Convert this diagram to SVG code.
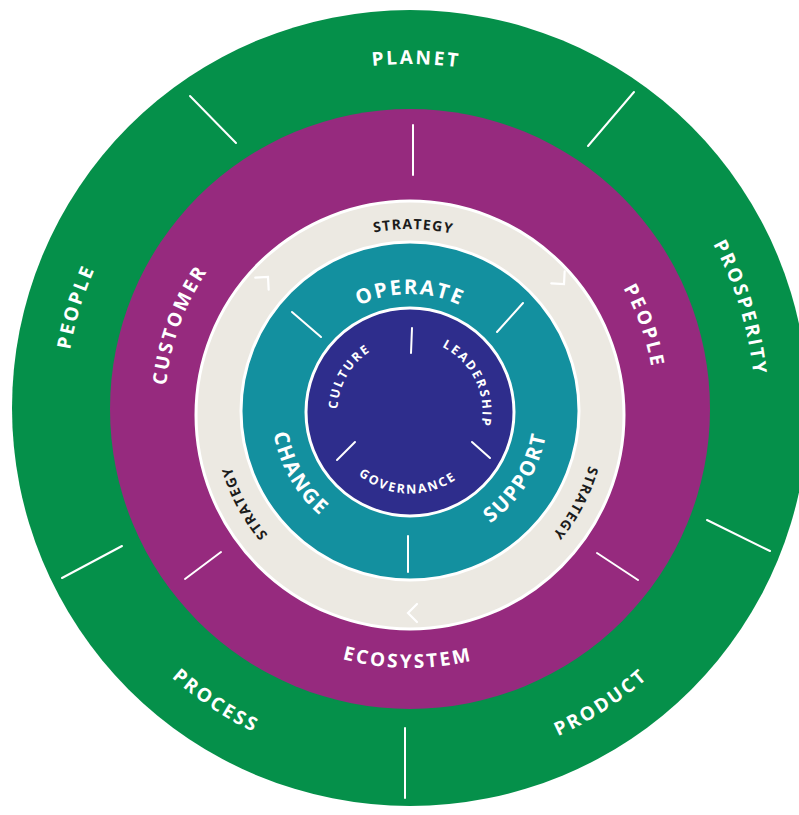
<svg xmlns="http://www.w3.org/2000/svg" width="799" height="815" viewBox="0 0 799 815">
<style>
text{font-family:"Open Sans","Liberation Sans",Arial,sans-serif;font-weight:700}
.w{fill:#ffffff}
.g{font-size:19px;letter-spacing:2.5px}
.p{font-size:19px;letter-spacing:2.5px}
.s{font-size:14px;letter-spacing:1.2px;fill:#1b1b1b}
.t{font-size:20.5px;letter-spacing:2px}
.n{font-size:12.5px;letter-spacing:2px}
.tick{stroke:#ffffff;stroke-width:2;stroke-linecap:round;fill:none}
.chev{stroke:#ffffff;stroke-width:2.2;fill:none;stroke-linecap:round;stroke-linejoin:miter}
.ring{stroke:#ffffff;stroke-width:3}
</style>
<defs>
<path id="gTop" d="M 70.24 349.09 A 345 345 0 0 1 749.76 349.09"/>
<path id="gBot" d="M 56.45 471.34 A 359 359 0 0 0 763.55 471.34"/>
<path id="pTop" d="M 168.72 366.46 A 245 245 0 0 1 651.28 366.46"/>
<path id="pBot" d="M 154.93 453.97 A 259 259 0 0 0 665.07 453.97"/>
<path id="sTop" d="M 226.83 382.70 A 186 186 0 0 1 593.17 382.70"/>
<path id="tTop" d="M 294.78 390.68 A 117 117 0 0 1 525.22 390.68"/>
<path id="tBot" d="M 274.10 434.96 A 138 138 0 0 0 545.90 434.96"/>
<path id="nTop" d="M 338.60 399.40 A 72.5 72.5 0 0 1 481.40 399.40"/>
<path id="nBot" d="M 329.74 426.16 A 81.5 81.5 0 0 0 490.26 426.16"/>
<path id="chevShape" d="M -9 -9 L 0 0 L -9 9"/>
</defs>

<g id="ring-outer">
<circle cx="410" cy="408" r="398" fill="#05904A"/>
<text class="g w" transform="rotate(1 410 409)"><textPath href="#gTop" startOffset="50%" text-anchor="middle">PLANET</textPath></text>
<text class="g w" transform="rotate(73 410 409)"><textPath href="#gTop" startOffset="50%" text-anchor="middle">PROSPERITY</textPath></text>
<text class="g w" transform="rotate(-73 410 409)"><textPath href="#gTop" startOffset="50%" text-anchor="middle">PEOPLE</textPath></text>
<text class="g w" transform="rotate(33.6 410 409)"><textPath href="#gBot" startOffset="50%" text-anchor="middle">PROCESS</textPath></text>
<text class="g w" transform="rotate(-33 410 409)"><textPath href="#gBot" startOffset="50%" text-anchor="middle">PRODUCT</textPath></text>
</g>

<g id="ring-purple">
<circle cx="410" cy="409" r="300" fill="#962A7E"/>
<text class="p w" transform="rotate(-70 410 409)"><textPath href="#pTop" startOffset="50%" text-anchor="middle">CUSTOMER</textPath></text>
<text class="p w" transform="rotate(70.5 410 409)"><textPath href="#pTop" startOffset="50%" text-anchor="middle">PEOPLE</textPath></text>
<text class="p w" transform="rotate(0.5 410 409)"><textPath href="#pBot" startOffset="50%" text-anchor="middle">ECOSYSTEM</textPath></text>
</g>

<g id="ring-strategy">
<circle class="ring" cx="410" cy="415" r="214" fill="#ECE9E2"/>
<text class="s" transform="rotate(1 410 415)"><textPath href="#sTop" startOffset="50%" text-anchor="middle">STRATEGY</textPath></text>
<text class="s" transform="rotate(242 410 415)"><textPath href="#sTop" startOffset="50%" text-anchor="middle">STRATEGY</textPath></text>
<text class="s" transform="rotate(118 410 415)"><textPath href="#sTop" startOffset="50%" text-anchor="middle">STRATEGY</textPath></text>
</g>

<g id="ring-teal">
<circle class="ring" cx="410" cy="411" r="169" fill="#13909F"/>
<text class="t w" transform="rotate(0 410 411)"><textPath href="#tTop" startOffset="50%" text-anchor="middle">OPERATE</textPath></text>
<text class="t w" transform="rotate(60.4 410 411)"><textPath href="#tBot" startOffset="50%" text-anchor="middle">CHANGE</textPath></text>
<text class="t w" transform="rotate(-58 410 411)"><textPath href="#tBot" startOffset="50%" text-anchor="middle">SUPPORT</textPath></text>
</g>

<g id="core">
<circle class="ring" cx="410" cy="412" r="104" fill="#2E2D8C"/>
<text class="n w" transform="rotate(-60 410 412)"><textPath href="#nTop" startOffset="50%" text-anchor="middle">CULTURE</textPath></text>
<text class="n w" transform="rotate(64 410 412)"><textPath href="#nTop" startOffset="50%" text-anchor="middle">LEADERSHIP</textPath></text>
<text class="n w" transform="rotate(2 410 412)"><textPath href="#nBot" startOffset="50%" text-anchor="middle">GOVERNANCE</textPath></text>
</g>

<g id="connectors">
<line class="tick" x1="190" y1="96" x2="236" y2="143"/>
<line class="tick" x1="588" y1="146" x2="634" y2="92"/>
<line class="tick" x1="707" y1="520" x2="770" y2="551"/>
<line class="tick" x1="405" y1="728" x2="405" y2="798"/>
<line class="tick" x1="62" y1="578" x2="122" y2="546"/>
<line class="tick" x1="413" y1="125" x2="413" y2="175"/>
<line class="tick" x1="185" y1="579" x2="221" y2="552"/>
<line class="tick" x1="597" y1="553" x2="638" y2="580"/>
<line class="tick" x1="292" y1="312" x2="321" y2="337"/>
<line class="tick" x1="523" y1="303" x2="497" y2="332"/>
<line class="tick" x1="408" y1="536" x2="408" y2="572"/>
<line class="tick" x1="412" y1="328" x2="411" y2="353"/>
<line class="tick" x1="355" y1="442" x2="337" y2="460"/>
<line class="tick" x1="472" y1="442" x2="490" y2="458"/>
<use href="#chevShape" class="chev" transform="translate(268 277) rotate(-48)"/>
<use href="#chevShape" class="chev" transform="translate(564 284) rotate(48)"/>
<use href="#chevShape" class="chev" transform="translate(408 613) rotate(180)"/>
</g>
</svg>
